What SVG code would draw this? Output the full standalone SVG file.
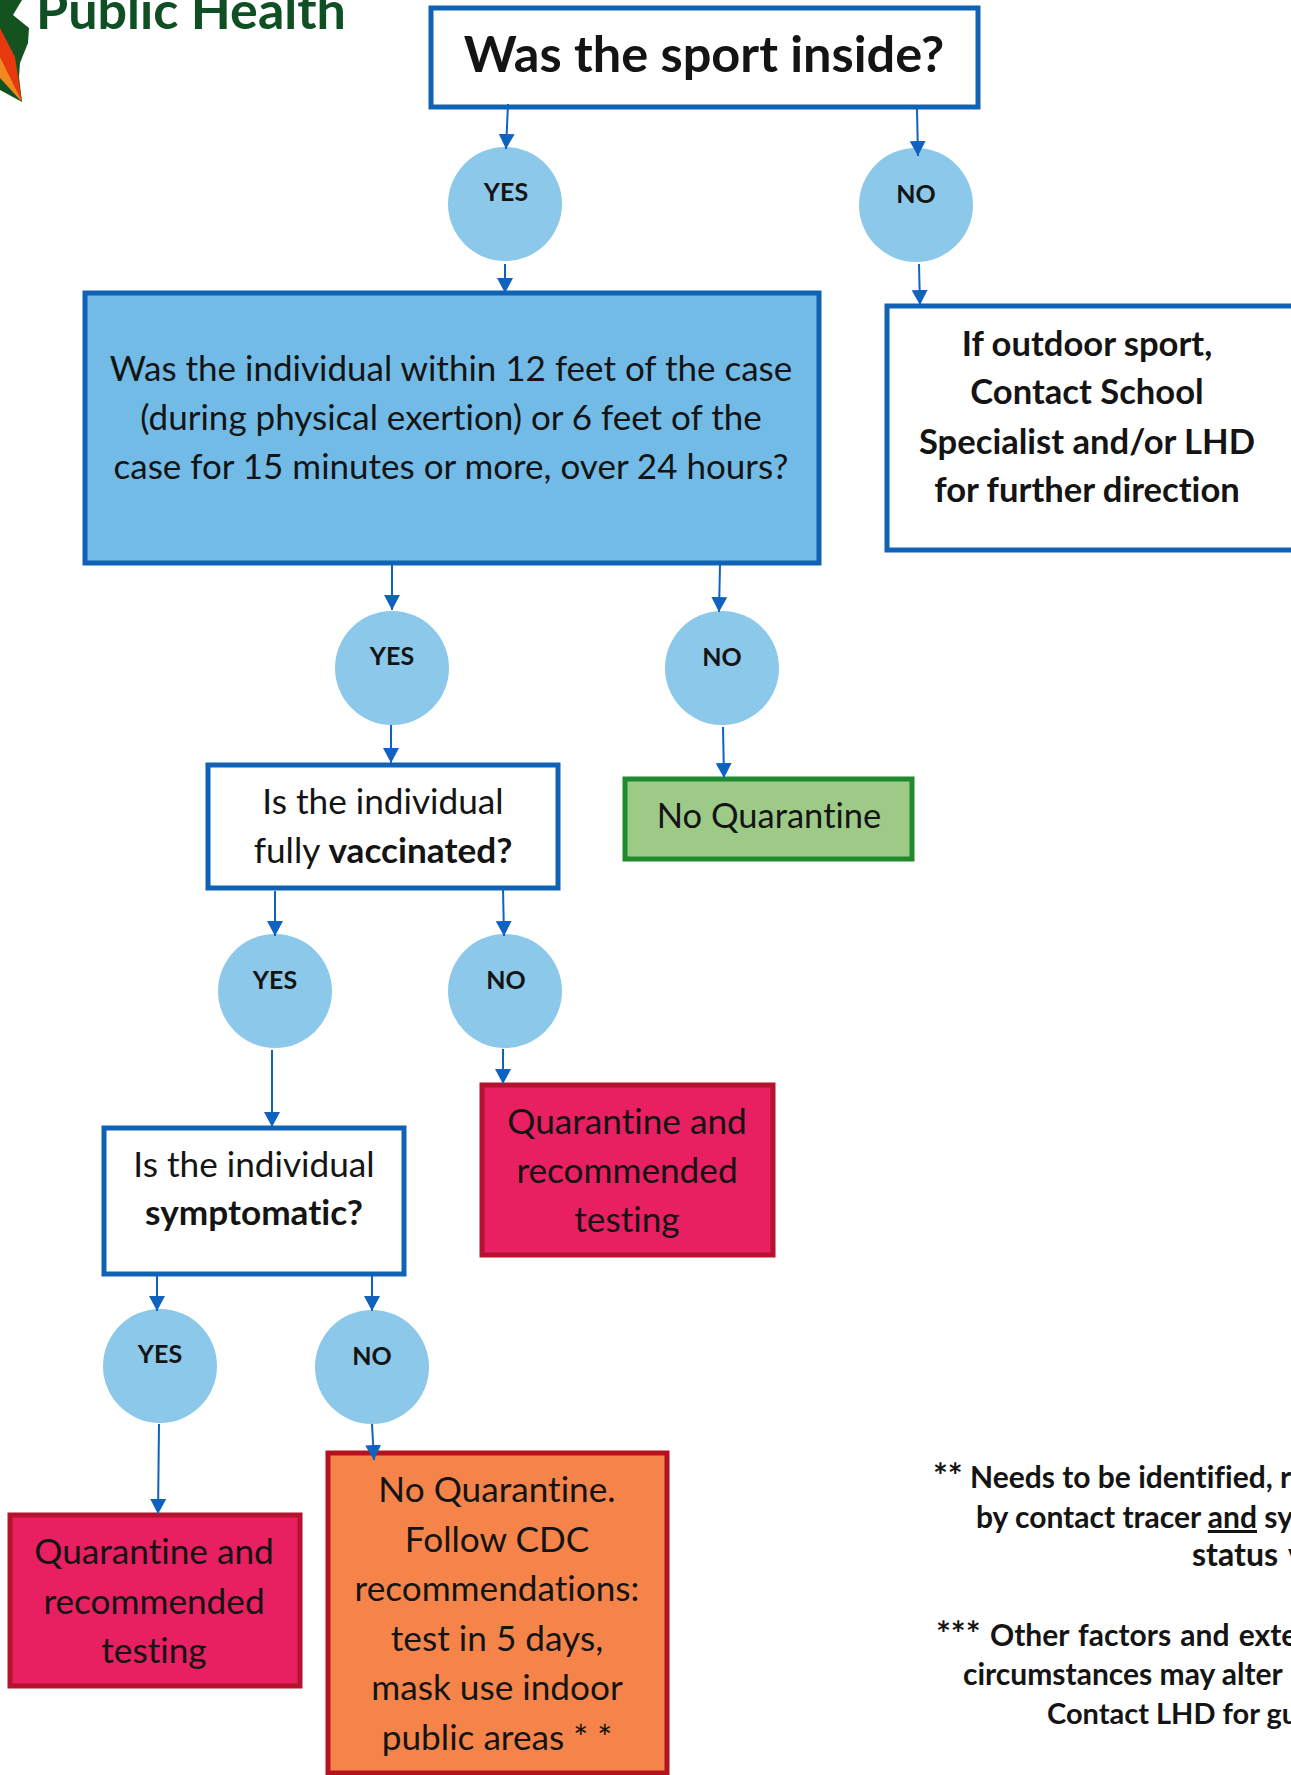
<svg xmlns="http://www.w3.org/2000/svg" width="1291" height="1775" viewBox="0 0 1291 1775">
<style>
text{font-family:"Lato","Noto Sans","Liberation Sans",sans-serif;fill:#141414;text-anchor:middle;font-variant-ligatures:none}
.b{fill:#fff;stroke:#0f62b4;stroke-width:5}
.blue{fill:#72bbe6;stroke:#0f62b4;stroke-width:5}
.g{fill:#9dca86;stroke:#1f8a2e;stroke-width:5}
.r{fill:#e81f60;stroke:#b5122f;stroke-width:5}
.o{fill:#f5844a;stroke:#b5121f;stroke-width:5}
.c{fill:#8cc8ea}
.cl{font-size:25px;font-weight:700}
.t{font-size:35.2px}
.w{font-size:35px}
.n{font-size:34.5px}
.s{font-size:34.6px;font-weight:700}
.f{font-size:30px;font-weight:700;text-anchor:start}
.a{font-size:35px}
#connectors line{stroke:#0f62c0;stroke-width:2;marker-end:url(#ah)}
</style>
<defs><marker id="ah" markerUnits="userSpaceOnUse" markerWidth="17" markerHeight="18" refX="15" refY="8" orient="auto"><path d="M0 0L15 8L0 16Z" fill="#0f62c0"/></marker></defs>
<rect width="1291" height="1775" fill="#fff"/>
<g id="logo">
<path d="M0 0H22L13 15L29 28L28 43L20 63L19 77L22 102L0 90Z" fill="#14531f"/>
<path d="M0 28L15 57L22 102L8 78L0 57Z" fill="#e8380f"/>
<path d="M0 57L22 102L0 78Z" fill="#f08a1e"/>
<text x="191" y="29" style="font-size:52px;font-weight:700;fill:#0f4f24">Public Health</text>
</g>
<g id="q-inside"><rect class="b" x="431" y="8" width="547" height="99"/><text x="704" y="72" style="font-size:50.5px;font-weight:700">Was the sport inside?</text></g>
<g id="yes1"><circle class="c" cx="505" cy="204" r="57"/><text class="cl" x="506" y="201">YES</text></g>
<g id="no1"><circle class="c" cx="916" cy="205" r="57"/><text class="cl" x="916" y="203">NO</text></g>
<g id="q-within"><rect class="blue" x="85" y="293" width="734" height="270"/>
<text class="w" x="451" y="381">Was the individual within 12 feet of the case</text>
<text class="w" x="451" y="430">(during physical exertion) or 6 feet of the</text>
<text class="w" x="451" y="479">case for 15 minutes or more, over 24 hours?</text></g>
<g id="outdoor"><rect class="b" x="887" y="306" width="408" height="244"/>
<text class="s" x="1087" y="356">If outdoor sport,</text>
<text class="s" x="1087" y="404">Contact School</text>
<text class="s" x="1087" y="454">Specialist and/or LHD</text>
<text class="s" x="1087" y="502">for further direction</text></g>
<g id="yes2"><circle class="c" cx="392" cy="668" r="57"/><text class="cl" x="392" y="665">YES</text></g>
<g id="no2"><circle class="c" cx="722" cy="668" r="57"/><text class="cl" x="722" y="666">NO</text></g>
<g id="q-vacc"><rect class="b" x="208" y="765" width="350" height="123"/>
<text class="t" x="383" y="814">Is the individual</text>
<text class="t" x="383" y="863">fully <tspan font-weight="700">vaccinated?</tspan></text></g>
<g id="noq1"><rect class="g" x="625" y="779" width="287" height="80"/><text class="n" x="769" y="828">No Quarantine</text></g>
<g id="yes3"><circle class="c" cx="275" cy="991" r="57"/><text class="cl" x="275" y="989">YES</text></g>
<g id="no3"><circle class="c" cx="505" cy="991" r="57"/><text class="cl" x="506" y="989">NO</text></g>
<g id="quar1"><rect class="r" x="482" y="1085" width="291" height="170"/>
<text class="t" x="627" y="1134">Quarantine and</text>
<text class="t" x="627" y="1183">recommended</text>
<text class="t" x="627" y="1232">testing</text></g>
<g id="q-sympt"><rect class="b" x="104" y="1128" width="300" height="146"/>
<text class="t" x="254" y="1177">Is the individual</text>
<text class="t" x="254" y="1225" font-weight="700">symptomatic?</text></g>
<g id="yes4"><circle class="c" cx="160" cy="1366" r="57"/><text class="cl" x="160" y="1363">YES</text></g>
<g id="no4"><circle class="c" cx="372" cy="1367" r="57"/><text class="cl" x="372" y="1365">NO</text></g>
<g id="quar2"><rect class="r" x="10" y="1515" width="290" height="171"/>
<text class="t" x="154" y="1564">Quarantine and</text>
<text class="t" x="154" y="1614">recommended</text>
<text class="t" x="154" y="1663">testing</text></g>
<g id="noq2"><rect class="o" x="328" y="1453" width="339" height="320"/>
<text class="t" x="497" y="1502">No Quarantine.</text>
<text class="t" x="497" y="1552">Follow CDC</text>
<text class="t" x="497" y="1601">recommendations:</text>
<text class="t" x="497" y="1651">test in 5 days,</text>
<text class="t" x="497" y="1700">mask use indoor</text>
<text class="t" x="497" y="1750">public areas * *</text></g>
<g id="notes">
<text class="f" x="933" y="1488"><tspan class="a">**</tspan> Needs to be identified, r</text>
<text class="f" x="976" y="1528">by contact tracer <tspan text-decoration="underline">and</tspan> sy</text>
<text class="f" x="1192" y="1566" style="font-size:32px;word-spacing:3px">status v</text>
<text class="f" x="936" y="1646" style="word-spacing:2px"><tspan class="a">***</tspan> Other factors and exte</text>
<text class="f" x="963" y="1685">circumstances may alter</text>
<text class="f" x="1047" y="1724" style="font-size:29px">Contact LHD for gu</text>
</g>
<g id="connectors">
<line x1="508" y1="104" x2="506" y2="149"/>
<line x1="917" y1="109" x2="918" y2="156"/>
<line x1="505" y1="264" x2="505" y2="293"/>
<line x1="919" y1="264" x2="920" y2="305"/>
<line x1="392" y1="565" x2="392" y2="610"/>
<line x1="720" y1="565" x2="719" y2="612"/>
<line x1="391" y1="725" x2="391" y2="763"/>
<line x1="723" y1="727" x2="724" y2="778"/>
<line x1="275" y1="891" x2="275" y2="936"/>
<line x1="503" y1="889" x2="504" y2="936"/>
<line x1="503" y1="1049" x2="503" y2="1084"/>
<line x1="272" y1="1050" x2="272" y2="1127"/>
<line x1="157" y1="1276" x2="157" y2="1311"/>
<line x1="372" y1="1275" x2="372" y2="1311"/>
<line x1="159" y1="1424" x2="158" y2="1514"/>
<line x1="372" y1="1424" x2="374" y2="1460"/>
</g>
</svg>
